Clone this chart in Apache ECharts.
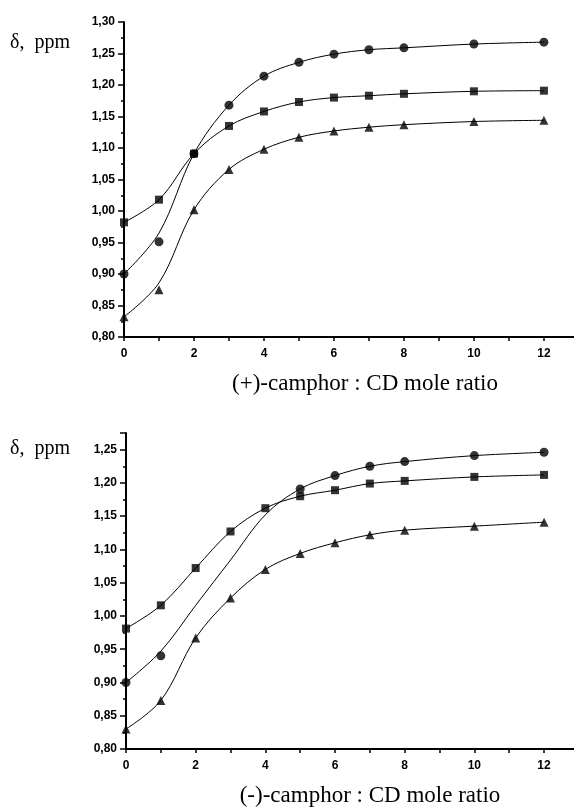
<!DOCTYPE html>
<html>
<head>
<meta charset="utf-8">
<script src="https://cdn.jsdelivr.net/npm/echarts@6/dist/echarts.min.js"></script>
<style>
html, body { margin: 0; padding: 0; background: #fff; }
#chart { width: 574px; height: 808px; }
</style>
</head>
<body>
<div id="chart"></div>
<script>
// mole ratio values (x)
var ratios = [0, 1, 2, 3, 4, 5, 6, 7, 8, 10, 12];

// (+)-camphor, delta ppm
var plusCircle   = [0.900, 0.951, 1.091, 1.168, 1.214, 1.236, 1.249, 1.256, 1.259, 1.265, 1.268];
var plusSquare   = [0.982, 1.018, 1.091, 1.135, 1.158, 1.173, 1.180, 1.183, 1.186, 1.190, 1.191];
var plusTriangle = [0.832, 0.875, 1.002, 1.066, 1.098, 1.117, 1.127, 1.133, 1.137, 1.142, 1.144];
// fitted curves
var plusCircleFit   = [0.900, 0.965, 1.091, 1.168, 1.214, 1.236, 1.249, 1.256, 1.259, 1.265, 1.268];
var plusTriangleFit = [0.832, 0.886, 1.002, 1.066, 1.098, 1.117, 1.127, 1.133, 1.137, 1.142, 1.144];

// (-)-camphor, delta ppm (no circle markers at 2, 3, 4)
var minusCircle   = [0.900, 0.940, null, null, null, 1.191, 1.211, 1.225, 1.232, 1.241, 1.246];
var minusSquare   = [0.981, 1.016, 1.072, 1.127, 1.162, 1.180, 1.189, 1.199, 1.203, 1.209, 1.212];
var minusTriangle = [0.830, 0.873, 0.967, 1.027, 1.070, 1.094, 1.110, 1.122, 1.129, 1.135, 1.141];
var minusCircleFit = [0.900, 0.947, 1.016, 1.084, 1.152, 1.191, 1.211, 1.225, 1.232, 1.241, 1.246];

var yLabel = 'δ,  ppm';
var xLabelPlus = '(+)-camphor : CD mole ratio';
var xLabelMinus = '(-)-camphor : CD mole ratio';

function pairs(vals) {
    return ratios.map(function(x, i) { return [x, vals[i]]; })
        .filter(function(p) { return p[1] !== null; });
}

// axis runs on past 12 to the right edge
function xAxisFor(grid) {
    return {
        type: 'value', gridIndex: grid, min: 0, max: 12.86, interval: 1,
        axisLine: { lineStyle: { color: '#000', width: 2 } },
        axisTick: { length: 4, lineStyle: { color: '#000', width: 1.5 } },
        splitLine: { show: false },
        axisLabel: {
            color: '#000', fontSize: 12, fontWeight: 'bold', fontFamily: 'Liberation Sans', margin: 11,
            showMaxLabel: false,
            formatter: function(v) { return (v % 2 === 0) ? String(v) : ''; }
        }
    };
}

function yAxisFor(grid, max) {
    return {
        type: 'value', gridIndex: grid, min: 0.8, max: max, interval: 0.05,
        axisLine: { show: true, lineStyle: { color: '#000', width: 2 } },
        axisTick: { length: 6, lineStyle: { color: '#000', width: 1.5 } },
        minorTick: { show: true, splitNumber: 2, length: 3, lineStyle: { color: '#000', width: 1.5 } },
        splitLine: { show: false },
        axisLabel: {
            color: '#000', fontSize: 12, fontWeight: 'bold', fontFamily: 'Liberation Sans', margin: 9,
            showMaxLabel: max === 1.3,
            formatter: function(v) { return v.toFixed(2).replace('.', ','); }
        }
    };
}

function curve(vals, idx) {
    return {
        type: 'line', xAxisIndex: idx, yAxisIndex: idx, data: pairs(vals),
        smooth: 0.35, symbol: 'none', silent: true,
        lineStyle: { color: '#000', width: 1 }, z: 2
    };
}

function marks(vals, idx, symbol, size) {
    return {
        type: 'scatter', xAxisIndex: idx, yAxisIndex: idx, data: pairs(vals),
        symbol: symbol, symbolSize: size, itemStyle: { color: '#000' }, z: 3
    };
}

var chart = echarts.init(document.getElementById('chart'));
chart.setOption({
    animation: false,
    backgroundColor: '#fff',
    grid: [
        { left: 124, top: 22, right: 0, height: 315 },
        { left: 126, top: 433, right: 0, height: 316 }
    ],
    xAxis: [xAxisFor(0), xAxisFor(1)],
    yAxis: [yAxisFor(0, 1.3), yAxisFor(1, 1.275)],
    graphic: [
        { type: 'text', x: 10, y: 43, style: { text: yLabel, font: '20px "Liberation Serif"', fill: '#000', verticalAlign: 'middle' } },
        { type: 'text', x: 10, y: 449, style: { text: yLabel, font: '20px "Liberation Serif"', fill: '#000', verticalAlign: 'middle' } },
        { type: 'text', x: 365, y: 384, style: { text: xLabelPlus, font: '23px "Liberation Serif"', fill: '#000', align: 'center', verticalAlign: 'middle' } },
        { type: 'text', x: 370, y: 796, style: { text: xLabelMinus, font: '23px "Liberation Serif"', fill: '#000', align: 'center', verticalAlign: 'middle' } }
    ],
    series: [
        curve(plusCircleFit, 0),
        curve(plusSquare, 0),
        curve(plusTriangleFit, 0),
        marks(plusCircle, 0, 'circle', 9),
        marks(plusSquare, 0, 'rect', 8),
        marks(plusTriangle, 0, 'triangle', 9),
        curve(minusCircleFit, 1),
        curve(minusSquare, 1),
        curve(minusTriangle, 1),
        marks(minusCircle, 1, 'circle', 9),
        marks(minusSquare, 1, 'rect', 8),
        marks(minusTriangle, 1, 'triangle', 9)
    ]
});
</script>
</body>
</html>
